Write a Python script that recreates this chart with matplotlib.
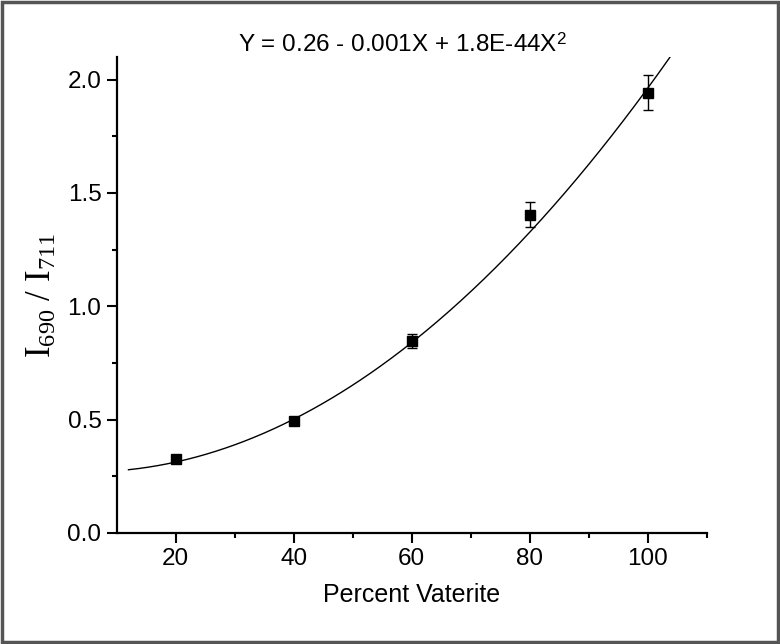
import numpy as np
import matplotlib
matplotlib.use("Agg")
import matplotlib.pyplot as plt
from matplotlib.patches import Rectangle

# data
percent_vaterite = [20, 40, 60, 80, 100]
ratio = [0.326, 0.492, 0.846, 1.404, 1.943]
ratio_err = [0.008, 0.010, 0.030, 0.056, 0.078]
fit_coef = [0.2727, -0.001708, 1.8605e-4]   # a, b, c of quadratic fit
fit_x_range = [12, 110]
x_ticks = [20, 40, 60, 80, 100]
y_ticks = [0.0, 0.5, 1.0, 1.5, 2.0]
equation = r"Y = 0.26 - 0.001X + 1.8E-44X$^\mathsf{2}$"

plt.rcParams['font.family'] = ['Liberation Sans', 'DejaVu Sans']
plt.rcParams['mathtext.fontset'] = 'custom'
plt.rcParams['mathtext.rm'] = 'Liberation Serif'
plt.rcParams['mathtext.it'] = 'Liberation Serif:italic'
plt.rcParams['mathtext.sf'] = 'Liberation Sans'

fig = plt.figure(figsize=(7.8, 6.44), dpi=100)
ax = fig.add_axes([0.1496, 0.1724, 0.906 - 0.1496, 0.9115 - 0.1724])

xf = np.linspace(fit_x_range[0], fit_x_range[1], 300)
yf = fit_coef[0] + fit_coef[1] * xf + fit_coef[2] * xf ** 2
ax.plot(xf, yf, color='black', lw=1.0)

ax.errorbar(percent_vaterite, ratio, yerr=ratio_err, fmt='s', color='black',
            ms=7, capsize=3.5, elinewidth=1.0, capthick=1.0, ecolor='black')

ax.set_xlim(10, 110)
ax.set_ylim(0, 2.1)
ax.set_xticks(x_ticks)
ax.set_yticks(y_ticks)
ax.set_yticklabels([f"{v:.1f}" for v in y_ticks])
ax.set_xticks([30, 50, 70, 90, 110], minor=True)
ax.set_yticks([0.25, 0.75, 1.25, 1.75], minor=True)
ax.tick_params(which='major', direction='out', length=7, width=1.5, labelsize=17.5, pad=4)
ax.tick_params(which='minor', direction='out', length=3.5, width=1.5)

for s in ['top', 'right']:
    ax.spines[s].set_visible(False)
for s in ['left', 'bottom']:
    ax.spines[s].set_linewidth(1.6)

ax.set_xlabel("Percent Vaterite", fontsize=18, labelpad=9)
ax.set_ylabel(r"$\mathrm{I}_{690}$ / $\mathrm{I}_{711}$", fontsize=25,
              fontfamily='Liberation Serif', labelpad=6)

fig.text(402 / 780, 1 - 45 / 644, equation, ha='center', va='center', fontsize=17.5)

fig.patches.append(Rectangle((0.002, 0.003), 0.995, 0.994, transform=fig.transFigure,
                             fill=False, edgecolor='#555555', linewidth=2.5))

fig.savefig("out.png", dpi=100)
